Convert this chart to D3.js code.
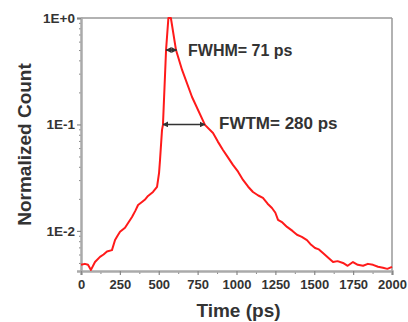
<!DOCTYPE html>
<html>
<head>
  <meta charset="utf-8" />
  <script src="https://d3js.org/d3.v7.min.js"></script>
  <style>
    body { margin: 0; background: white; }
    text { font-family: "Liberation Sans", Arial, sans-serif; font-weight: bold; fill: #333; }
  </style>
</head>
<body>
<div id="chart"></div>
<script>
  // time axis (ps) and normalized counts
  const times = [0, 25, 45, 64, 90, 122, 145, 167, 199, 219, 235, 251, 283, 305, 328, 350, 367, 392, 410, 431, 463, 489,
    502, 508, 521, 527, 547, 562, 578, 611, 650, 714, 797, 849, 880, 913, 945, 977, 1010, 1042, 1075, 1106, 1140, 1170,
    1200, 1228, 1250, 1267, 1295, 1325, 1360, 1389, 1420, 1453, 1480, 1505, 1530, 1556, 1590, 1621, 1650, 1685, 1715,
    1749, 1780, 1814, 1845, 1878, 1910, 1942, 1970, 2000];
  const counts = [0.0048, 0.0049, 0.0048, 0.0043, 0.0051, 0.0057, 0.0060, 0.0064, 0.0066, 0.0082, 0.0090, 0.0098, 0.0107,
    0.0120, 0.0135, 0.0155, 0.0175, 0.0187, 0.0196, 0.0213, 0.0232, 0.0259,
    0.0351, 0.046, 0.0888, 0.099, 0.50, 1.0, 1.0, 0.50, 0.325, 0.181, 0.099, 0.083, 0.069, 0.0576, 0.049, 0.0417, 0.036,
    0.0301, 0.026, 0.0232, 0.0215, 0.0204,
    0.0180, 0.0164, 0.0148, 0.0127, 0.0120, 0.0109, 0.0100, 0.0092, 0.0088, 0.0082, 0.0074, 0.0069, 0.0067, 0.0062,
    0.0056, 0.0051, 0.0052, 0.0050, 0.0047,
    0.0051, 0.0048, 0.0047, 0.0049, 0.0048, 0.0046, 0.0045, 0.0044, 0.0046];

  const xTicks = [0, 250, 500, 750, 1000, 1250, 1500, 1750, 2000];
  const yTicks = [1, 0.1, 0.01];
  const yTickLabels = ["1E+0", "1E-1", "1E-2"];

  // annotations: [label, left time, right time, level]
  const fwhm = ["FWHM= 71 ps", 547, 615, 0.5];
  const fwtm = ["FWTM= 280 ps", 527, 797, 0.1];

  const width = 408, height = 322;
  const margin = { top: 18, right: 16, bottom: 51, left: 81 };

  const svg = d3.select("#chart").append("svg")
    .attr("width", width)
    .attr("height", height);

  const x = d3.scaleLinear().domain([0, 2000]).range([margin.left, width - margin.right]);
  const y = d3.scaleLog().domain([0.0042, 1]).range([height - margin.bottom, margin.top]);

  svg.append("defs").append("marker")
    .attr("id", "head")
    .attr("viewBox", "0 0 10 10")
    .attr("refX", 9).attr("refY", 5)
    .attr("markerWidth", 4).attr("markerHeight", 4)
    .attr("orient", "auto-start-reverse")
    .append("path")
    .attr("d", "M0,0 L10,5 L0,10 z")
    .attr("fill", "#333");

  // frame top / right
  svg.append("line")
    .attr("x1", x(0)).attr("x2", x(2000))
    .attr("y1", y(1)).attr("y2", y(1))
    .attr("stroke", "#999").attr("stroke-width", 1.5);
  svg.append("line")
    .attr("x1", x(2000)).attr("x2", x(2000))
    .attr("y1", y(1)).attr("y2", y(0.0042))
    .attr("stroke", "#999").attr("stroke-width", 1.5);

  // minor ticks
  const yMinor = [];
  [0.001, 0.01, 0.1].forEach(d => { for (let k = 2; k <= 9; k++) if (d * k >= 0.0042) yMinor.push(d * k); });
  svg.append("g")
    .attr("transform", `translate(${margin.left},0)`)
    .call(d3.axisLeft(y).tickValues(yMinor).tickSize(2).tickFormat(""))
    .call(g => g.select(".domain").remove())
    .selectAll("line").attr("stroke", "#888");

  const xMinor = d3.range(125, 2000, 250);
  svg.append("g")
    .attr("transform", `translate(0,${height - margin.bottom})`)
    .call(d3.axisBottom(x).tickValues(xMinor).tickSize(3).tickFormat(""))
    .call(g => g.select(".domain").remove())
    .selectAll("line").attr("stroke", "#888");

  // major axes
  const yAxis = svg.append("g")
    .attr("transform", `translate(${margin.left},0)`)
    .call(d3.axisLeft(y).tickValues(yTicks).tickSize(4).tickPadding(2)
      .tickFormat((d, i) => yTickLabels[i]));
  yAxis.select(".domain").attr("stroke", "#aaa").attr("stroke-width", 2.5);
  yAxis.selectAll("line").attr("stroke", "#888").attr("stroke-width", 1.2);
  yAxis.selectAll("text").attr("font-size", 13.5).attr("fill", "#333")
    .style("font-family", "Liberation Sans, Arial, sans-serif").style("font-weight", "bold");

  const xAxis = svg.append("g")
    .attr("transform", `translate(0,${height - margin.bottom})`)
    .call(d3.axisBottom(x).tickValues(xTicks).tickSize(4).tickPadding(5).tickFormat(d3.format("d")));
  xAxis.select(".domain").attr("stroke", "#aaa").attr("stroke-width", 2.5);
  xAxis.selectAll("line").attr("stroke", "#888").attr("stroke-width", 1.2);
  xAxis.selectAll("text").attr("font-size", 13).attr("fill", "#333")
    .style("font-family", "Liberation Sans, Arial, sans-serif").style("font-weight", "bold");

  // curve
  const data = times.map((t, i) => ({ t: t, v: counts[i] }));
  svg.append("path")
    .datum(data)
    .attr("fill", "none")
    .attr("stroke", "#ff1a1a")
    .attr("stroke-width", 2)
    .attr("stroke-linejoin", "round")
    .attr("d", d3.line().x(d => x(d.t)).y(d => y(d.v)));

  // width arrows + labels
  [fwhm, fwtm].forEach(a => {
    svg.append("line")
      .attr("x1", x(a[1])).attr("x2", x(a[2]))
      .attr("y1", y(a[3])).attr("y2", y(a[3]))
      .attr("stroke", "#333").attr("stroke-width", 1.5)
      .attr("marker-start", "url(#head)")
      .attr("marker-end", "url(#head)");
  });
  svg.append("text")
    .attr("x", 188).attr("y", y(fwhm[3]) + 6)
    .attr("font-size", 16)
    .text(fwhm[0]);
  svg.append("text")
    .attr("x", 219).attr("y", y(fwtm[3]) + 5)
    .attr("font-size", 17)
    .text(fwtm[0]);

  // axis titles
  svg.append("text")
    .attr("x", (x(0) + x(2000)) / 2 + 2)
    .attr("y", 317)
    .attr("text-anchor", "middle")
    .attr("font-size", 19)
    .text("Time (ps)");
  svg.append("text")
    .attr("transform", `translate(31,${(y(1) + y(0.0042)) / 2}) rotate(-90)`)
    .attr("text-anchor", "middle")
    .attr("font-size", 19)
    .text("Normalized Count");
</script>
</body>
</html>
